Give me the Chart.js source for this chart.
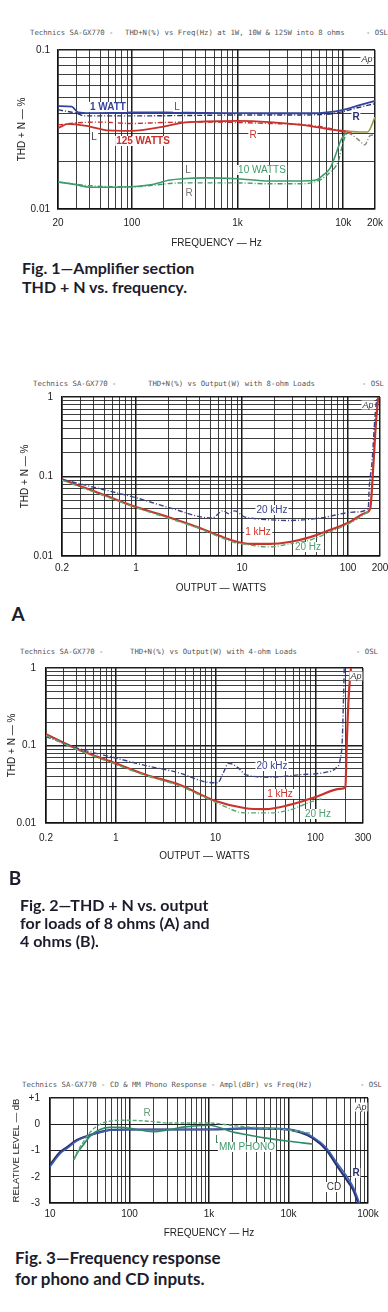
<!DOCTYPE html>
<html lang="en">
<head>
<meta charset="utf-8">
<title>Technics SA-GX770</title>
<script src="https://cdn.jsdelivr.net/npm/chart.js@4.4.1/dist/chart.umd.min.js"></script>
<style>
  body { margin: 0; width: 388px; height: 1312px; background: #fff; position: relative; overflow: hidden; font-family: "Liberation Sans", Arial, sans-serif; }
  canvas { position: absolute; left: 0; }
  .t { position: absolute; white-space: nowrap; line-height: 1; }
  .hdr { font-family: "DejaVu Sans Mono", monospace; font-size: 7.3px; color: #555; transform: translateY(-50%); }
  .lb { font-size: 10px; transform: translate(-50%, -50%); background: #fff; padding: 0 1px; }
  .cap { font-family: Lato, "Open Sans", sans-serif; font-weight: 700; font-size: 16px; line-height: 19px; color: #1c1c2c; }
  .big { font-family: Lato, sans-serif; font-weight: 700; font-size: 19px; transform: translate(-50%, -50%); color: #1c1c2c; }
</style>
</head>
<body>
<canvas id="fig1" width="388" height="215" style="top:40px"></canvas>
<canvas id="fig2a" width="388" height="210" style="top:390px"></canvas>
<canvas id="fig2b" width="388" height="206" style="top:660px"></canvas>
<canvas id="fig3" width="388" height="155" style="top:1090px"></canvas>

<div class="t cap" style="left:22px;top:258px">Fig. 1—Amplifier section<br>THD + N vs. frequency.</div>
<div class="t big" style="left:18px;top:613px">A</div>
<div class="t big" style="left:15px;top:877px">B</div>
<div class="t cap" style="left:20px;top:896px;line-height:18px">Fig. 2—THD + N vs. output<br>for loads of 8 ohms (A) and<br>4 ohms (B).</div>
<div class="t cap" style="left:15px;top:1247px;font-size:17px;line-height:21px">Fig. 3—Frequency response<br>for phono and CD inputs.</div>

<script>
// Fig. 1 - THD+N vs frecuencia (8 ohms)
const frec1wL = [20, 27, 31, 40, 70, 100, 200, 500, 1000, 2000, 5000, 7000, 10000, 14000, 20000];
const thd1wL = [0.0444, 0.0440, 0.0405, 0.0401, 0.0403, 0.0405, 0.0405, 0.0402, 0.0401, 0.0400, 0.0400, 0.0405, 0.0420, 0.0448, 0.0478];
const frec1wR = [20, 30, 35, 100, 300, 1000, 3000, 6000, 8000, 10000, 14000, 20000];
const thd1wR = [0.0420, 0.0400, 0.0385, 0.0385, 0.0387, 0.0390, 0.0390, 0.0392, 0.0398, 0.0410, 0.0435, 0.0460];
const frec125L = [20, 25, 40, 60, 100, 200, 300, 500, 1000, 2000, 4000, 6000, 8000, 10000, 12000];
const thd125L = [0.0323, 0.0343, 0.0330, 0.0312, 0.0310, 0.0330, 0.0348, 0.0355, 0.0358, 0.0352, 0.0338, 0.0325, 0.0315, 0.0310, 0.0305];
const frec125R = [20, 30, 50, 100, 200, 500, 1000, 2000, 4000, 6000, 8000, 10000, 12000];
const thd125R = [0.0338, 0.0348, 0.0352, 0.0345, 0.0350, 0.0352, 0.0350, 0.0345, 0.0340, 0.0330, 0.0318, 0.0305, 0.0300];
const frec10L = [20, 30, 40, 100, 150, 230, 300, 500, 1000, 2000, 4000, 5500, 6500, 7500, 8500, 9500, 10500, 11000, 14000, 17000, 20000];
const thd10L = [0.0148, 0.0142, 0.0137, 0.0138, 0.0142, 0.0152, 0.0155, 0.0157, 0.0155, 0.0150, 0.0150, 0.0152, 0.0164, 0.0180, 0.0220, 0.0270, 0.0300, 0.0308, 0.0305, 0.0305, 0.0378];
const frec10R = [20, 40, 100, 300, 1000, 2000, 4000, 6000, 7500, 9000, 10000, 11000, 14000, 16000, 18000, 20000];
const thd10R = [0.0148, 0.0140, 0.0138, 0.0146, 0.0146, 0.0144, 0.0144, 0.0152, 0.0170, 0.0200, 0.0264, 0.0300, 0.0272, 0.0253, 0.0290, 0.0292];
const fig1XVals = [20, 100, 1000, 10000, 20000];
const fig1XText = ['20', '100', '1k', '10k', '20k'];
const fig1YVals = [0.01, 0.1];
const fig1YText = ['0.01', '0.1'];

// Fig. 2A - THD+N vs potencia, 8 ohms
const w8_20k = [0.2, 0.5, 1, 2, 5.2, 6.6, 7.5, 8.5, 10.5, 12, 28, 54, 116, 155, 158, 168, 180, 190];
const thd8_20k = [0.092, 0.068, 0.054, 0.041, 0.030, 0.037, 0.034, 0.037, 0.031, 0.030, 0.028, 0.030, 0.0357, 0.040, 0.070, 0.150, 0.600, 1.200];
const w8_1k = [0.2, 0.5, 1, 2, 4, 6.2, 8.5, 12, 18, 28, 44, 67, 104, 145, 162, 172, 184, 194];
const thd8_1k = [0.092, 0.0585, 0.0413, 0.031, 0.0225, 0.0178, 0.0154, 0.0142, 0.0142, 0.0150, 0.0173, 0.0212, 0.0268, 0.0347, 0.040, 0.12, 0.51, 1.1];
const w8_20 = [0.2, 0.5, 1, 2, 4, 6.2, 8.5, 12, 18, 28, 44, 67, 104, 145, 160];
const thd8_20 = [0.090, 0.057, 0.0405, 0.030, 0.0220, 0.0172, 0.0148, 0.0137, 0.0130, 0.0142, 0.0159, 0.020, 0.026, 0.034, 0.038];
const fig2aXVals = [0.2, 1, 10, 100, 200];
const fig2aXText = ['0.2', '1', '10', '100', '200'];

// Fig. 2B - THD+N vs potencia, 4 ohms
const w4_20k = [0.2, 0.44, 1, 2, 4.4, 7.8, 10.5, 12, 13.5, 17, 20, 35, 70, 125, 160, 177, 186, 195];
const thd4_20k = [0.13, 0.09, 0.069, 0.055, 0.044, 0.034, 0.033, 0.045, 0.059, 0.051, 0.042, 0.039, 0.042, 0.045, 0.051, 0.065, 0.118, 1.1];
const w4_1k = [0.2, 0.44, 0.87, 2, 4.4, 10, 20, 31.5, 55, 100, 178, 200, 206, 215, 230];
const thd4_1k = [0.14, 0.087, 0.063, 0.042, 0.031, 0.0192, 0.0155, 0.0151, 0.0171, 0.0216, 0.0275, 0.029, 0.1, 0.4, 1.2];
const w4_20 = [0.2, 0.44, 0.87, 2, 4.4, 10, 20, 35, 55, 90, 115];
const thd4_20 = [0.135, 0.085, 0.061, 0.041, 0.030, 0.0185, 0.0135, 0.0135, 0.0147, 0.0187, 0.0205];
const fig2bXVals = [0.2, 1, 10, 100, 300];
const fig2bXText = ['0.2', '1', '10', '100', '300'];
const fig2YVals = [0.01, 0.1, 1];
const fig2YText = ['0.01', '0.1', '1'];

// Fig. 3 - respuesta en frecuencia
const fCD = [10, 13.4, 16.4, 21.8, 32, 42.6, 57, 100, 300, 1000, 3000, 8000, 13900, 20000, 30000, 40000, 54000, 65000, 73000, 80000, 100000];
const dbCD_L = [-1.55, -1.06, -0.87, -0.60, -0.41, -0.30, -0.22, -0.20, -0.20, -0.20, -0.16, -0.18, -0.30, -0.52, -0.98, -1.55, -2.12, -2.50, -2.89, -3.20, -4.00];
const dbCD_R = [-1.62, -1.12, -0.92, -0.63, -0.43, -0.31, -0.23, -0.21, -0.20, -0.19, -0.15, -0.16, -0.27, -0.47, -0.90, -1.44, -1.98, -2.38, -2.75, -3.10, -4.00];
const fMM = [20, 22, 26, 32, 42.6, 57, 80, 100, 200, 300, 500, 1000, 2000, 3000, 5000, 10000, 20000];
const dbMM_L = [-1.35, -1.10, -0.80, -0.45, -0.20, -0.12, -0.12, -0.15, -0.28, -0.22, -0.10, -0.04, -0.30, -0.40, -0.52, -0.65, -0.75];
const dbMM_R = [-1.35, -1.05, -0.70, -0.30, 0.00, 0.12, 0.15, 0.15, 0.10, 0.05, 0.05, 0.05, -0.05, -0.10, -0.15, -0.22, -0.35];
const fig3XVals = [10, 100, 1000, 10000, 100000];
const fig3XText = ['10', '100', '1k', '10k', '100k'];
const fig3YTicks = [-3, -2, -1, 0, 1];

const cabeceras = [
    ['Technics SA-GX770 -', 30, 33], ['THD+N(%) vs Freq(Hz) at 1W, 10W & 125W into 8 ohms', 125, 33], ['- OSL', 366, 33],
    ['Technics SA-GX770 -', 33, 384], ['THD+N(%) vs Output(W) with 8-ohm Loads', 148, 384], ['- OSL', 362, 384],
    ['Technics SA-GX770 -', 20, 652], ['THD+N(%) vs Output(W) with 4-ohm Loads', 130, 652], ['- OSL', 356, 652],
    ['Technics SA-GX770 -', 22, 1085], ['CD & MM Phono Response - Ampl(dBr) vs Freq(Hz)', 110, 1085], ['- OSL', 360, 1085]
];

const etiquetas = [
    ['1 WATT', 108, 107, '#34449a', 700], ['L', 177, 107, '#555', 400], ['R', 356, 117, '#2a3070', 700],
    ['R', 253, 135, '#c8302c', 400], ['L', 94, 137, '#444', 400], ['125 WATTS', 143, 141, '#c8302c', 700],
    ['L', 188, 170, '#666', 400], ['10 WATTS', 262, 170, '#3f9b6b', 400], ['R', 189, 193, '#777', 400],
    ['20 kHz', 272, 510, '#3a428a', 400], ['1 kHz', 258, 532, '#c8342b', 400], ['20 Hz', 308, 547, '#4aa070', 400],
    ['20 kHz', 272, 766, '#3a428a', 400], ['1 kHz', 280, 794, '#c8342b', 400], ['20 Hz', 318, 814, '#4aa070', 400],
    ['R', 147, 1113, '#6a9a7a', 400], ['L', 218, 1140, '#3a7a5a', 400], ['MM PHONO', 247, 1147, '#3f9b6b', 400],
    ['R', 356, 1173, '#2a3070', 700], ['CD', 334, 1187, '#333', 400],
    ['Ap', 367, 59, '#333', 400], ['Ap', 368, 405, '#333', 400], ['Ap', 356, 676, '#333', 400], ['Ap', 361, 1107, '#333', 400]
];

cabeceras.forEach(c => {
    let d = document.createElement('div');
    d.className = 't hdr';
    d.textContent = c[0];
    d.style.left = c[1] + 'px';
    d.style.top = c[2] + 'px';
    document.body.appendChild(d);
});

etiquetas.forEach(e => {
    let d = document.createElement('div');
    d.className = 't lb';
    d.textContent = e[0];
    d.style.left = e[1] + 'px';
    d.style.top = e[2] + 'px';
    d.style.color = e[3];
    d.style.fontWeight = e[4];
    if (e[0] === 'Ap') { d.style.fontStyle = 'italic'; d.style.fontSize = '9px'; }
    document.body.appendChild(d);
});

const logGrid = (min, max) => {
    let out = [];
    for (let e = -3; e <= 6; e++) {
        for (let m = 1; m < 10; m++) {
            let v = +(m * Math.pow(10, e)).toPrecision(3);
            if (v >= min * 0.999 && v <= max * 1.001) out.push(v);
        }
    }
    if (!out.includes(min)) out.unshift(min);
    if (!out.includes(max)) out.push(max);
    return out;
};

const esDecada = v => Math.abs(Math.log10(Math.abs(v)) - Math.round(Math.log10(Math.abs(v)))) < 1e-9;

const serie = (xs, ys, color, width, dash, extra) => Object.assign({
    data: xs.map((x, i) => ({ x: x, y: ys[i] })),
    borderColor: color,
    borderWidth: width,
    borderDash: dash || [],
    pointRadius: 0,
    fill: false,
    cubicInterpolationMode: 'monotone'
}, extra || {});

const DASHDOT = [5, 2, 1, 2];
const fuente = { family: 'Liberation Sans', size: 10 };

const fijarTam = size => s => {
    if (s.isHorizontal()) {
        s.height = size;
        s.paddingLeft = 0;
        s.paddingRight = 0;
    } else {
        s.width = size;
        s.paddingTop = 0;
        s.paddingBottom = 0;
    }
};

const eje = (tipo, min, max, ticks, labelFn, o) => ({
    type: tipo,
    min: min,
    max: max,
    afterBuildTicks: s => { s.ticks = ticks.map(v => ({ value: v })); },
    afterFit: fijarTam(o.size),
    ticks: {
        autoSkip: false, maxRotation: 0, minRotation: 0,
        padding: o.pad, color: '#222', font: fuente,
        callback: labelFn
    },
    grid: {
        color: '#1c1c1c',
        drawTicks: false,
        lineWidth: c => {
            if (!c.tick) return 1;
            let v = c.tick.value;
            if (v === min || v === max) return 1.5;
            if (tipo === 'logarithmic') return esDecada(v) ? 1.5 : 0.85;
            return 1.1;
        }
    },
    border: { color: '#111', width: 1.5 },
    title: { display: true, text: o.title, color: '#222', font: { family: 'Liberation Sans', size: o.tsize || 10 }, padding: o.tpad }
});

const etiquetaDe = (vals, txt) => v => {
    const i = vals.findIndex(x => Math.abs(x - v) < 1e-9 * Math.max(1, Math.abs(x)));
    return i >= 0 ? txt[i] : '';
};

const pintar = (id, datasets, x, y, top, right) => {
    new Chart(document.getElementById(id), {
        type: 'line',
        data: { datasets: datasets },
        options: {
            responsive: false,
            animation: false,
            devicePixelRatio: 1,
            layout: { padding: { left: 0, top: top, right: right, bottom: 0 } },
            plugins: { legend: { display: false }, tooltip: { enabled: false } },
            scales: { x: x, y: y }
        }
    });
};

const tramoAlto = (color) => ({ segment: { borderColor: c => c.p0.parsed.x >= 10500 ? color : undefined } });

// Fig. 1
pintar('fig1', [
    serie(frec10R, thd10R, '#3f9b6b', 1.4, DASHDOT, tramoAlto('#8a8a80')),
    serie(frec10L, thd10L, '#3f9b6b', 1.6, [], tramoAlto('#9a9a48')),
    serie(frec125R, thd125R, '#c8302c', 1.4, DASHDOT),
    serie(frec125L, thd125L, '#c8302c', 1.8),
    serie(frec1wR, thd1wR, '#2a2f6a', 1.4, DASHDOT),
    serie(frec1wL, thd1wL, '#34449a', 1.8)
],
    eje('logarithmic', 20, 20000, logGrid(20, 20000), etiquetaDe(fig1XVals, fig1XText),
        { size: 46, pad: 8, title: 'FREQUENCY — Hz', tpad: { top: 0, bottom: 6 } }),
    eje('logarithmic', 0.01, 0.1, logGrid(0.01, 0.1), etiquetaDe(fig1YVals, fig1YText),
        { size: 58, pad: 8, title: 'THD + N — %', tpad: { top: 16, bottom: 0 } }),
    10, 13);

// Fig. 2A
pintar('fig2a', [
    serie(w8_20, thd8_20, '#5aa86f', 1.4, DASHDOT),
    serie(w8_20k, thd8_20k, '#3a428a', 1.4, DASHDOT),
    serie(w8_1k, thd8_1k, '#c8342b', 2.2)
],
    eje('logarithmic', 0.2, 200, logGrid(0.2, 200), etiquetaDe(fig2aXVals, fig2aXText),
        { size: 44, pad: 6, title: 'OUTPUT — WATTS', tpad: { top: 0, bottom: 6 } }),
    eje('logarithmic', 0.01, 1, logGrid(0.01, 1), etiquetaDe(fig2YVals, fig2YText),
        { size: 62, pad: 9, title: 'THD + N — %', tpad: { top: 19, bottom: 0 } }),
    7, 8);

// Fig. 2B
pintar('fig2b', [
    serie(w4_20, thd4_20, '#5aa86f', 1.4, DASHDOT),
    serie(w4_20k, thd4_20k, '#3a428a', 1.4, DASHDOT),
    serie(w4_1k, thd4_1k, '#c8342b', 2.2)
],
    eje('logarithmic', 0.2, 300, logGrid(0.2, 300), etiquetaDe(fig2bXVals, fig2bXText),
        { size: 43, pad: 9, title: 'OUTPUT — WATTS', tpad: { top: 0, bottom: 4 } }),
    eje('logarithmic', 0.01, 1, logGrid(0.01, 1), etiquetaDe(fig2YVals, fig2YText),
        { size: 46, pad: 10, title: 'THD + N — %', tpad: { top: 6, bottom: 0 } }),
    8, 25);

// Fig. 3
pintar('fig3', [
    serie(fMM, dbMM_R, '#5aa878', 1.4, [4, 2]),
    serie(fMM, dbMM_L, '#2f8a66', 1.6),
    serie(fCD, dbCD_R, '#3f5fb0', 1.5),
    serie(fCD, dbCD_L, '#2a3070', 2.2)
],
    eje('logarithmic', 10, 100000, logGrid(10, 100000), etiquetaDe(fig3XVals, fig3XText),
        { size: 42, pad: 5, title: 'FREQUENCY — Hz', tpad: { top: 0, bottom: 6 } }),
    eje('linear', -3, 1, fig3YTicks, v => v > 0 ? '+' + v : String(v),
        { size: 50, pad: 10, title: 'RELATIVE LEVEL — dB', tsize: 9.5, tpad: { top: 11, bottom: 0 } }),
    8, 20);
</script>
</body>
</html>
